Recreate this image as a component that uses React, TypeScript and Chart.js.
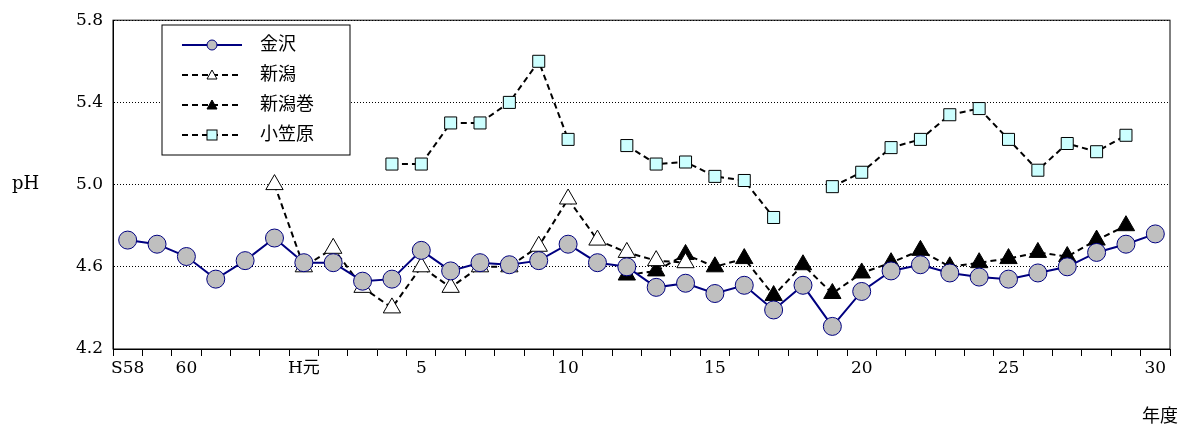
import React, { useRef, useEffect } from "react";
import { Chart } from "chart.js/auto";

const years = [
  "S58", "S59", "60", "S61", "S62", "S63", "H元",
  "2", "3", "4", "5", "6", "7", "8", "9", "10", "11", "12", "13", "14", "15",
  "16", "17", "18", "19", "20", "21", "22", "23", "24", "25", "26", "27", "28", "29", "30",
];
const shownLabels = ["S58", "60", "H元", "5", "10", "15", "20", "25", "30"];

const kanazawa = [
  4.73, 4.71, 4.65, 4.54, 4.63, 4.74, 4.62, 4.62, 4.53, 4.54, 4.68, 4.58, 4.62, 4.61,
  4.63, 4.71, 4.62, 4.6, 4.5, 4.52, 4.47, 4.51, 4.39, 4.51, 4.31, 4.48, 4.58, 4.61,
  4.57, 4.55, 4.54, 4.57, 4.6, 4.67, 4.71, 4.76,
];
const niigata = [
  null, null, null, null, null, 5.0, 4.6, 4.69, 4.5, 4.4, 4.6, 4.5, 4.6, 4.6, 4.7,
  4.93, 4.73, 4.67, 4.63, 4.62,
];
const niigataMaki = [
  null, null, null, null, null, null, null, null, null, null, null, null, null, null, null,
  null, null, 4.56, 4.58, 4.66, 4.6, 4.64, 4.46, 4.61, 4.47, 4.57, 4.62, 4.68, 4.6,
  4.62, 4.64, 4.67, 4.65, 4.73, 4.8,
];
const ogasawara = [
  null, null, null, null, null, null, null, null, null, 5.1, 5.1, 5.3, 5.3, 5.4, 5.6,
  5.22, null, 5.19, 5.1, 5.11, 5.04, 5.02, 4.84, null, 4.99, 5.06, 5.18, 5.22, 5.34,
  5.37, 5.22, 5.07, 5.2, 5.16, 5.24,
];

const FONT = "'DejaVu Serif', 'Noto Sans CJK JP', serif";

const frameAndLegend = {
  id: "frameAndLegend",
  afterDraw(chart: any) {
    const { ctx, chartArea: a } = chart;
    ctx.save();
    ctx.strokeStyle = "#000";
    ctx.lineWidth = 1;
    ctx.strokeRect(a.left, a.top, a.right - a.left, a.bottom - a.top);
    // legend box
    const lx = 162, ly = 25, lw = 188, lh = 130;
    ctx.fillStyle = "#fff";
    ctx.fillRect(lx, ly, lw, lh);
    ctx.strokeRect(lx, ly, lw, lh);
    ctx.font = `18px ${FONT}`;
    ctx.textBaseline = "middle";
    chart.data.datasets.forEach((ds: any, i: number) => {
      const y = ly + 20 + i * 30;
      ctx.strokeStyle = ds.borderColor;
      ctx.lineWidth = ds.borderWidth;
      ctx.setLineDash(ds.borderDash || []);
      ctx.beginPath();
      ctx.moveTo(lx + 20, y);
      ctx.lineTo(lx + 80, y);
      ctx.stroke();
      ctx.setLineDash([]);
      ctx.lineWidth = 1;
      ctx.fillStyle = ds.pointBackgroundColor;
      ctx.strokeStyle = ds.pointBorderColor;
      const cx = lx + 50;
      if (ds.pointStyle === "circle") {
        ctx.beginPath();
        ctx.arc(cx, y, 5, 0, Math.PI * 2);
        ctx.fill();
        ctx.stroke();
      } else if (ds.pointStyle === "triangle") {
        ctx.beginPath();
        ctx.moveTo(cx, y - 5);
        ctx.lineTo(cx + 5, y + 4);
        ctx.lineTo(cx - 5, y + 4);
        ctx.closePath();
        ctx.fill();
        ctx.stroke();
      } else {
        ctx.fillRect(cx - 5, y - 5, 10, 10);
        ctx.strokeRect(cx - 5, y - 5, 10, 10);
      }
      ctx.fillStyle = "#000";
      ctx.fillText(ds.label, lx + 98, y);
    });
    // axis titles
    ctx.fillText("pH", 12, a.top + (a.bottom - a.top) / 2);
    ctx.textAlign = "right";
    ctx.fillText("年度", 1178, 417);
    ctx.restore();
  },
};

const App = () => {
  const chartRef = useRef<any>(null);
  const chartInstanceRef = useRef<any>(null);

  useEffect(() => {
    document.body.style.margin = "0";
    const ctx = chartRef.current.getContext("2d");
    if (chartInstanceRef.current) chartInstanceRef.current.destroy();

    const common = { borderWidth: 2, pointRadius: 10, pointBorderWidth: 1, spanGaps: false };
    chartInstanceRef.current = new Chart(ctx, {
      type: "line",
      data: {
        labels: years,
        datasets: [
          {
            ...common,
            label: "金沢",
            data: kanazawa,
            borderColor: "#000080",
            borderWidth: 2,
            pointStyle: "circle",
            pointRadius: 9,
            pointBackgroundColor: "#bfbfbf",
            pointBorderColor: "#000080",
          },
          {
            ...common,
            label: "新潟",
            data: niigata,
            borderColor: "#000",
            borderDash: [6, 4],
            pointStyle: "triangle",
            pointBackgroundColor: "#fff",
            pointBorderColor: "#000",
          },
          {
            ...common,
            label: "新潟巻",
            data: niigataMaki,
            borderColor: "#000",
            borderDash: [6, 4],
            pointStyle: "triangle",
            pointBackgroundColor: "#000",
            pointBorderColor: "#000",
          },
          {
            ...common,
            label: "小笠原",
            data: ogasawara,
            borderColor: "#000",
            borderDash: [6, 4],
            pointStyle: "rect",
            pointRadius: 8.5,
            pointBackgroundColor: "#ccffff",
            pointBorderColor: "#000",
          },
        ],
      },
      options: {
        animation: false,
        responsive: false,
        layout: { padding: { top: 17, right: 0, bottom: 0, left: 0 } },
        plugins: { legend: { display: false }, tooltip: { enabled: false } },
        scales: {
          x: {
            offset: true,
            border: { display: true, color: "#000" },
            grid: { offset: true, drawOnChartArea: false, tickLength: 7, color: "#000" },
            ticks: {
              autoSkip: false,
              maxRotation: 0,
              color: "#000",
              font: { family: FONT, size: 17 },
              padding: 2,
              callback: (_v: any, i: number) => (shownLabels.includes(years[i]) ? years[i] : ""),
            },
            afterFit: (s: any) => { s.height = 85; },
          },
          y: {
            min: 4.2,
            max: 5.8,
            border: { display: true, color: "#000", dash: [1, 2] },
            grid: { color: "#000", drawTicks: false, lineWidth: 1 },
            ticks: {
              stepSize: 0.4,
              color: "#000",
              padding: 10,
              font: { family: FONT, size: 17 },
              callback: (v: any) => Number(v).toFixed(1),
            },
            afterFit: (s: any) => { s.width = 113; },
          },
        },
      },
      plugins: [frameAndLegend],
    });

    return () => {
      if (chartInstanceRef.current) chartInstanceRef.current.destroy();
    };
  }, []);

  return <canvas ref={chartRef} width={1181} height={434} />;
};

export default App;
